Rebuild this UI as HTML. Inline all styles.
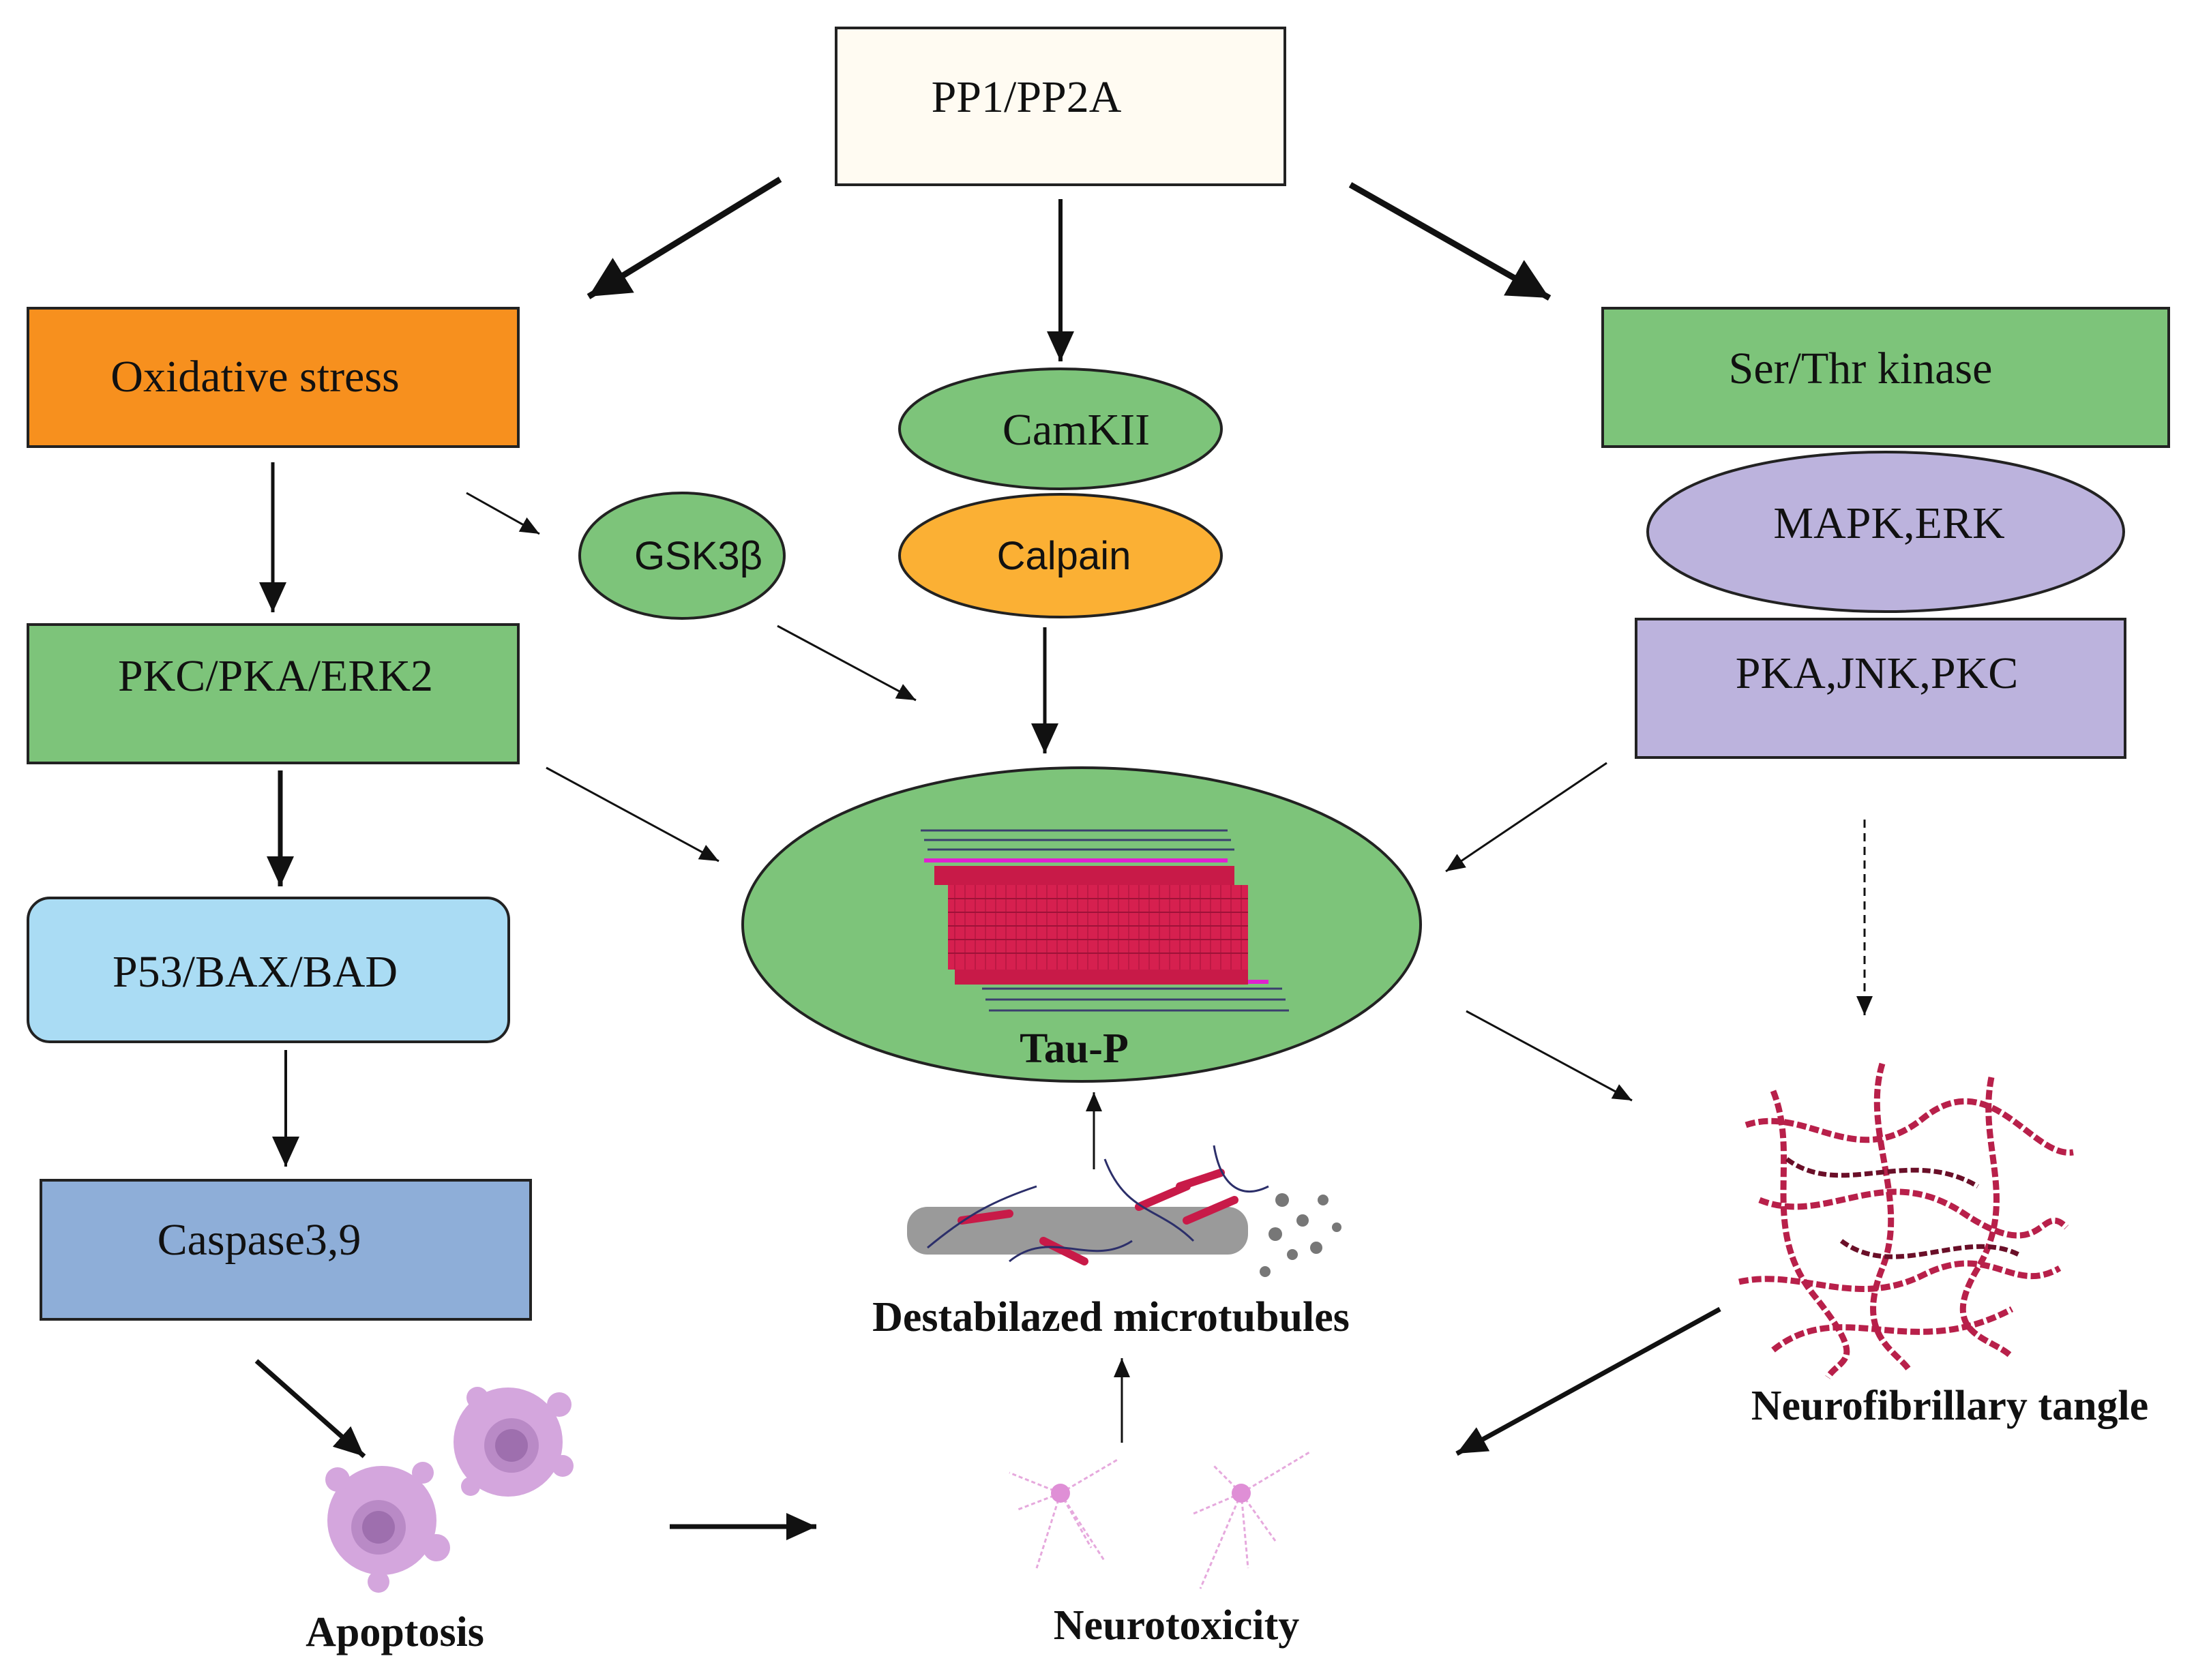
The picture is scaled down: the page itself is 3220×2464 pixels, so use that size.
<!DOCTYPE html>
<html><head><meta charset="utf-8"><style>
html,body{margin:0;padding:0;background:#fff}
svg{display:block}
.s{font-family:"Liberation Serif",serif;fill:#111}
.a{font-family:"Liberation Sans",sans-serif;fill:#111}
.b{font-family:"Liberation Serif",serif;font-weight:bold;fill:#111}
</style></head><body>
<svg width="3220" height="2464" viewBox="0 0 3220 2464" xmlns="http://www.w3.org/2000/svg">
<defs>
<marker id="hb" markerUnits="userSpaceOnUse" markerWidth="80" markerHeight="80" refX="60" refY="30" orient="auto"><path d="M0,0 L60,30 L0,60 Z" fill="#111"/></marker>
<marker id="hm" markerUnits="userSpaceOnUse" markerWidth="60" markerHeight="60" refX="44" refY="20" orient="auto"><path d="M0,0 L44,20 L0,40 Z" fill="#111"/></marker>
<marker id="ht" markerUnits="userSpaceOnUse" markerWidth="40" markerHeight="40" refX="28" refY="12" orient="auto"><path d="M0,0 L28,12 L0,24 Z" fill="#111"/></marker>
</defs>
<g stroke="#222" stroke-width="4">
<rect x="1226" y="41" width="658" height="230" fill="#fffbf2"/>
<rect x="41" y="452" width="719" height="203" fill="#f7901e"/>
<rect x="2350" y="452" width="830" height="203" fill="#7dc47a"/>
<ellipse cx="1555" cy="629" rx="236" ry="88" fill="#7dc47a"/>
<ellipse cx="1555" cy="815" rx="236" ry="90" fill="#fbb034"/>
<ellipse cx="1000" cy="815" rx="150" ry="92" fill="#7dc47a"/>
<ellipse cx="2765" cy="780" rx="349" ry="117" fill="#bcb3dd"/>
<rect x="2399" y="908" width="717" height="203" fill="#bcb3dd"/>
<rect x="41" y="916" width="719" height="203" fill="#7dc47a"/>
<rect x="41" y="1317" width="705" height="211" rx="32" fill="#aadcf4"/>
<rect x="60" y="1731" width="718" height="204" fill="#8eaed8"/>
<ellipse cx="1586" cy="1356" rx="497" ry="230" fill="#7dc47a"/>
</g>
<g>
<g stroke="#3b3f6e" stroke-width="3">
<path d="M1350,1218 L1800,1218 M1355,1232 L1805,1232 M1360,1246 L1810,1246 M1440,1450 L1880,1450 M1445,1466 L1885,1466 M1450,1482 L1890,1482"/>
</g>
<g stroke="#e020d0" stroke-width="6"><path d="M1355,1262 L1800,1262 M1440,1440 L1860,1440"/></g>
<rect x="1390" y="1298" width="440" height="124" fill="#d6204f"/>
<g stroke="#9e1238" stroke-width="2">
<path d="M1390,1318H1830M1390,1338H1830M1390,1358H1830M1390,1378H1830M1390,1398H1830"/>
</g>
<g stroke="#9e1238" stroke-width="1.5" opacity=".6">
<path d="M1400,1298V1422M1415,1298V1422M1430,1298V1422M1445,1298V1422M1460,1298V1422M1475,1298V1422M1490,1298V1422M1505,1298V1422M1520,1298V1422M1535,1298V1422M1550,1298V1422M1565,1298V1422M1580,1298V1422M1595,1298V1422M1610,1298V1422M1625,1298V1422M1640,1298V1422M1655,1298V1422M1670,1298V1422M1685,1298V1422M1700,1298V1422M1715,1298V1422M1730,1298V1422M1745,1298V1422M1760,1298V1422M1775,1298V1422M1790,1298V1422M1805,1298V1422M1820,1298V1422"/>
</g>
<rect x="1370" y="1270" width="440" height="28" fill="#c81a48"/>
<rect x="1400" y="1422" width="430" height="22" fill="#c81a48"/>
</g>
<g>
<rect x="1330" y="1770" width="500" height="70" rx="30" fill="#9a9a9a"/>
<g fill="#777"><circle cx="1880" cy="1760" r="10"/><circle cx="1910" cy="1790" r="9"/><circle cx="1870" cy="1810" r="10"/><circle cx="1940" cy="1760" r="8"/><circle cx="1930" cy="1830" r="9"/><circle cx="1895" cy="1840" r="8"/><circle cx="1960" cy="1800" r="7"/><circle cx="1855" cy="1865" r="8"/></g>
<g stroke="#c81a48" stroke-width="12" stroke-linecap="round"><path d="M1410,1790 L1480,1780 M1530,1820 L1590,1850 M1670,1770 L1740,1740 M1740,1790 L1810,1760 M1730,1740 L1790,1720"/></g>
<g stroke="#2c2f6a" stroke-width="3" fill="none"><path d="M1360,1830 C1420,1780 1460,1760 1520,1740 M1480,1850 C1540,1800 1600,1860 1660,1820 M1620,1700 C1650,1780 1700,1770 1750,1820 M1780,1680 C1790,1740 1820,1760 1860,1740"/></g>
</g>
<g fill="none" stroke="#b8204a" stroke-width="9" stroke-dasharray="14 5">
<path d="M2560,1650 C2650,1620 2720,1720 2820,1640 S2980,1700 3040,1690"/>
<path d="M2580,1760 C2680,1800 2760,1700 2880,1780 S2990,1760 3030,1800"/>
<path d="M2550,1880 C2640,1860 2720,1920 2820,1870 S2950,1900 3020,1860"/>
<path d="M2600,1600 C2640,1700 2580,1800 2660,1900 S2700,1990 2680,2020"/>
<path d="M2760,1560 C2730,1660 2800,1760 2760,1860 S2780,1980 2800,2010"/>
<path d="M2920,1580 C2900,1680 2960,1760 2900,1860 S2920,1960 2950,1990"/>
<path d="M2600,1980 C2700,1900 2800,2000 2950,1920"/>
</g>
<g fill="none" stroke="#6a0f28" stroke-width="7" stroke-dasharray="12 5">
<path d="M2620,1700 C2700,1760 2800,1680 2900,1740"/>
<path d="M2700,1820 C2780,1880 2880,1800 2960,1840"/>
</g>
<g>
<circle cx="560" cy="2230" r="80" fill="#d4a6dd"/><circle cx="555" cy="2240" r="40" fill="#b98ac6"/><circle cx="555" cy="2240" r="24" fill="#9e6fae"/>
<circle cx="495" cy="2170" r="18" fill="#d4a6dd"/><circle cx="620" cy="2160" r="16" fill="#d4a6dd"/><circle cx="640" cy="2270" r="20" fill="#d4a6dd"/><circle cx="555" cy="2320" r="16" fill="#d4a6dd"/>
<circle cx="745" cy="2115" r="80" fill="#d4a6dd"/><circle cx="750" cy="2120" r="40" fill="#b98ac6"/><circle cx="750" cy="2120" r="24" fill="#9e6fae"/>
<circle cx="820" cy="2060" r="18" fill="#d4a6dd"/><circle cx="700" cy="2050" r="16" fill="#d4a6dd"/><circle cx="825" cy="2150" r="16" fill="#d4a6dd"/><circle cx="690" cy="2180" r="14" fill="#d4a6dd"/>
</g>
<g stroke="#e6a9dd" stroke-width="3" fill="none" stroke-dasharray="6 4">
<path d="M1555,2190 L1480,2160 M1555,2190 L1490,2215 M1555,2190 L1600,2270 M1555,2190 L1640,2140 M1555,2190 L1620,2290 M1555,2190 L1520,2300"/>
<path d="M1820,2190 L1750,2220 M1820,2190 L1780,2150 M1820,2190 L1920,2130 M1820,2190 L1830,2300 M1820,2190 L1870,2260 M1820,2190 L1760,2330"/>
</g>
<g fill="#df8fd6"><circle cx="1555" cy="2190" r="14"/><circle cx="1820" cy="2190" r="14"/></g>
<g stroke="#111" fill="none">
<line x1="1144" y1="263" x2="863" y2="435" stroke-width="9" marker-end="url(#hb)"/>
<line x1="1555" y1="292" x2="1555" y2="530" stroke-width="6" marker-end="url(#hm)"/>
<line x1="1980" y1="271" x2="2272" y2="437" stroke-width="9" marker-end="url(#hb)"/>
<line x1="400" y1="678" x2="400" y2="898" stroke-width="5" marker-end="url(#hm)"/>
<line x1="684" y1="723" x2="791" y2="783" stroke-width="3" marker-end="url(#ht)"/>
<line x1="1140" y1="918" x2="1343" y2="1027" stroke-width="3" marker-end="url(#ht)"/>
<line x1="1532" y1="920" x2="1532" y2="1105" stroke-width="5" marker-end="url(#hm)"/>
<line x1="411" y1="1130" x2="411" y2="1300" stroke-width="7" marker-end="url(#hm)"/>
<line x1="801" y1="1126" x2="1054" y2="1263" stroke-width="3" marker-end="url(#ht)"/>
<line x1="2356" y1="1119" x2="2120" y2="1278" stroke-width="3" marker-end="url(#ht)"/>
<line x1="2734" y1="1202" x2="2734" y2="1489" stroke-width="3" stroke-dasharray="12 8" marker-end="url(#ht)"/>
<line x1="2150" y1="1483" x2="2393" y2="1614" stroke-width="3" marker-end="url(#ht)"/>
<line x1="419" y1="1540" x2="419" y2="1711" stroke-width="4" marker-end="url(#hm)"/>
<line x1="376" y1="1996" x2="534" y2="2136" stroke-width="7" marker-end="url(#hm)"/>
<line x1="982" y1="2239" x2="1197" y2="2239" stroke-width="7" marker-end="url(#hm)"/>
<line x1="1645" y1="2116" x2="1645" y2="1992" stroke-width="3" marker-end="url(#ht)"/>
<line x1="1604" y1="1715" x2="1604" y2="1602" stroke-width="3" marker-end="url(#ht)"/>
<line x1="2522" y1="1920" x2="2136" y2="2132" stroke-width="7" marker-end="url(#hm)"/>
</g>
<g font-size="66">
<text class="s" x="1505" y="164" text-anchor="middle">PP1/PP2A</text>
<text class="s" x="374" y="574" text-anchor="middle">Oxidative stress</text>
<text class="s" x="2728" y="562" text-anchor="middle">Ser/Thr kinase</text>
<text class="s" x="1578" y="652" text-anchor="middle">CamKII</text>
<text class="a" x="1560" y="835" text-anchor="middle" font-size="58">Calpain</text>
<text class="a" x="1024" y="835" text-anchor="middle" font-size="58">GSK3β</text>
<text class="s" x="2770" y="789" text-anchor="middle">MAPK,ERK</text>
<text class="s" x="2752" y="1009" text-anchor="middle">PKA,JNK,PKC</text>
<text class="s" x="404" y="1013" text-anchor="middle">PKC/PKA/ERK2</text>
<text class="s" x="374" y="1447" text-anchor="middle">P53/BAX/BAD</text>
<text class="s" x="380" y="1840" text-anchor="middle">Caspase3,9</text>
</g>
<g font-size="62">
<text class="b" x="1575" y="1558" text-anchor="middle">Tau-P</text>
<text class="b" x="1629" y="1952" text-anchor="middle">Destabilazed microtubules</text>
<text class="b" x="2859" y="2082" text-anchor="middle">Neurofibrillary tangle</text>
<text class="b" x="579" y="2414" text-anchor="middle">Apoptosis</text>
<text class="b" x="1725" y="2404" text-anchor="middle">Neurotoxicity</text>
</g>
</svg>
</body></html>
